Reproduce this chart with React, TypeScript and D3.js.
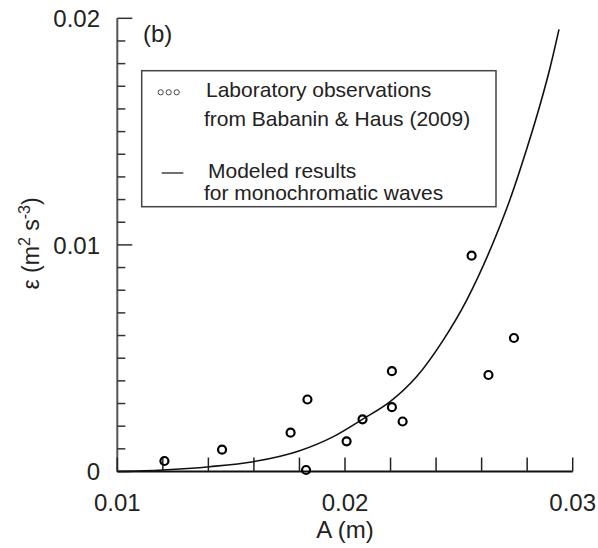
import React from "react";
import * as d3 from "d3";

// Laboratory observations (Babanin & Haus 2009): amplitude A (m), dissipation ε (m² s⁻³)
const obsA = [0.01207, 0.0146, 0.01761, 0.01835, 0.01829, 0.02007, 0.02077, 0.02206, 0.02253, 0.02556, 0.02742, 0.02206, 0.0263];
const obsE = [0.000463, 0.000962, 0.001712, 0.003177, 0.000066, 0.001333, 0.002304, 0.002838, 0.002207, 0.009523, 0.005891, 0.004426, 0.004259];

// Modeled results for monochromatic waves
const modA = [0.01, 0.012, 0.01407, 0.01597, 0.01801, 0.01949, 0.02076, 0.02198, 0.02315, 0.02432, 0.025345, 0.026662, 0.027246, 0.02798, 0.028564, 0.029003, 0.029398];
const modE = [0.0, 0.000066, 0.000212, 0.000433, 0.000918, 0.00154, 0.0023, 0.00308, 0.00419, 0.00581, 0.007568, 0.010481, 0.012008, 0.014232, 0.016174, 0.017807, 0.01951];

const xTickValues = [0.01, 0.012, 0.014, 0.016, 0.018, 0.02, 0.022, 0.024, 0.026, 0.028, 0.03];
const xTickLabels = ["0.01", "0.02", "0.03"];
const xLabelValues = [0.01, 0.02, 0.03];
const yTickValues = d3.range(0, 21).map((i) => i * 0.001);
const yMajorValues = [0, 0.01, 0.02];
const yTickLabels = ["0", "0.01", "0.02"];

const legendLines = [
  "Laboratory observations",
  "from Babanin & Haus (2009)",
  "Modeled results",
  "for monochromatic waves",
];

export default function App() {
  const W = 598;
  const H = 548;
  const x = d3.scaleLinear().domain([0.01, 0.03]).range([117.3, 572.7]);
  const y = d3.scaleLinear().domain([0, 0.02]).range([471.5, 18.3]);

  const line = d3
    .line<number>()
    .x((_, i) => x(modA[i]))
    .y((_, i) => y(modE[i]))
    .curve(d3.curveMonotoneX);

  const font = "Liberation Sans, Arial, sans-serif";

  return (
    <svg
      width={W}
      height={H}
      style={{ position: "absolute", left: 0, top: 0, background: "#fff" }}
      fontFamily={font}
    >
      <rect x={0} y={0} width={W} height={H} fill="#fff" />

      {/* y axis */}
      <line x1={x(0.01)} x2={x(0.01)} y1={y(0.02)} y2={y(0)} stroke="#555" strokeWidth={2} />
      {yTickValues.map((v, i) => {
        const major = yMajorValues.some((m) => Math.abs(m - v) < 1e-9);
        return (
          <line
            key={"yt" + i}
            x1={x(0.01)}
            x2={x(0.01) + (major ? 15 : 8)}
            y1={y(v)}
            y2={y(v)}
            stroke="#333"
            strokeWidth={1.5}
          />
        );
      })}
      {yMajorValues.map((v, i) => (
        <text
          key={"yl" + i}
          x={100}
          y={y(v)}
          dy="0.36em"
          textAnchor="end"
          fontSize={24}
          fill="#222"
        >
          {yTickLabels[i]}
        </text>
      ))}

      {/* x axis */}
      <line x1={x(0.01)} x2={x(0.03)} y1={y(0)} y2={y(0)} stroke="#111" strokeWidth={2} />
      {xTickValues.map((v, i) => (
        <line
          key={"xt" + i}
          x1={x(v)}
          x2={x(v)}
          y1={y(0)}
          y2={y(0) - 14}
          stroke="#222"
          strokeWidth={1.5}
        />
      ))}
      {xLabelValues.map((v, i) => (
        <text key={"xl" + i} x={x(v)} y={511} textAnchor="middle" fontSize={24} fill="#222">
          {xTickLabels[i]}
        </text>
      ))}

      {/* axis titles */}
      <text x={345} y={537.5} textAnchor="middle" fontSize={24} fill="#222">
        A (m)
      </text>
      <text
        transform="translate(39,243.5) rotate(-90)"
        textAnchor="middle"
        fontSize={23}
        fill="#222"
      >
        ε (m
        <tspan dy={-9} fontSize={16}>2</tspan>
        <tspan dy={9}> s</tspan>
        <tspan dy={-9} fontSize={16}>-3</tspan>
        <tspan dy={9}>)</tspan>
      </text>

      <text x={143} y={42} fontSize={24} fill="#222">
        (b)
      </text>

      {/* legend */}
      <rect x={141.7} y={70.7} width={496 - 141.7} height={206.7 - 70.7} fill="#fff" stroke="#444" strokeWidth={1.5} />
      {[160.7, 168.7, 176.7].map((cx, i) => (
        <circle key={"lc" + i} cx={cx} cy={92.3} r={2.6} fill="none" stroke="#444" strokeWidth={1} />
      ))}
      <line x1={161.7} x2={183.3} y1={173} y2={173} stroke="#111" strokeWidth={1.2} />
      <text x={206} y={97} fontSize={21} fill="#222">{legendLines[0]}</text>
      <text x={204} y={126} fontSize={21} fill="#222">{legendLines[1]}</text>
      <text x={208} y={177.5} fontSize={21} fill="#222">{legendLines[2]}</text>
      <text x={204} y={200} fontSize={21} fill="#222">{legendLines[3]}</text>

      {/* model curve */}
      <path d={line(modA) || ""} fill="none" stroke="#111" strokeWidth={1.6} />

      {/* observations */}
      {obsA.map((a, i) => (
        <circle
          key={"o" + i}
          cx={x(a)}
          cy={y(obsE[i])}
          r={4}
          fill="none"
          stroke="#000"
          strokeWidth={2.2}
        />
      ))}
    </svg>
  );
}
